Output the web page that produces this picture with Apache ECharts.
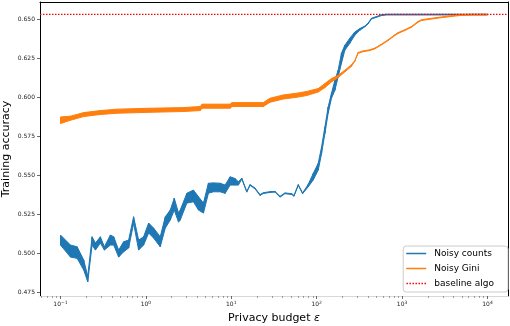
<!DOCTYPE html>
<html>
<head>
<meta charset="utf-8">
<script src="https://cdn.jsdelivr.net/npm/echarts@6/dist/echarts.min.js"></script>
<style>
  html, body { margin: 0; padding: 0; background: #fff; }
  #chart { width: 510px; height: 326px; }
</style>
</head>
<body>
<div id="chart"></div>
<script>
// x values are log10(epsilon)
const countsLogEps = [-1.000, -0.883, -0.805, -0.728, -0.681, -0.630, -0.591, -0.533, -0.486, -0.416, -0.377, -0.319, -0.261, -0.202, -0.144, -0.085, -0.027, 0.032, 0.090, 0.168, 0.227, 0.285, 0.332, 0.382, 0.402, 0.480, 0.557, 0.616, 0.674, 0.732, 0.791, 0.869, 0.928, 0.986, 1.044, 1.083, 1.123, 1.181, 1.220, 1.278, 1.336, 1.375, 1.453, 1.512, 1.570, 1.628, 1.707, 1.734, 1.784, 1.835, 1.901, 1.959, 2.018, 2.057, 2.096, 2.134, 2.173, 2.213, 2.251, 2.290, 2.329, 2.388, 2.446, 2.505, 2.563, 2.602, 2.641, 2.700, 2.758, 2.817, 4.000]
const countsLow = [0.5055, 0.4978, 0.4970, 0.4895, 0.4820, 0.5055, 0.5023, 0.5068, 0.5023, 0.5055, 0.5055, 0.4978, 0.5012, 0.5036, 0.5194, 0.5023, 0.5055, 0.5132, 0.5100, 0.5044, 0.5164, 0.5215, 0.5279, 0.5202, 0.5215, 0.5324, 0.5332, 0.5279, 0.5260, 0.5387, 0.5396, 0.5396, 0.5386, 0.5439, 0.5439, 0.5439, 0.5478, 0.5394, 0.5437, 0.5415, 0.5373, 0.5385, 0.5392, 0.5394, 0.5362, 0.5384, 0.5379, 0.5368, 0.5437, 0.5384, 0.5428, 0.5471, 0.5535, 0.5641, 0.5769, 0.5899, 0.5995, 0.6046, 0.6131, 0.6219, 0.6302, 0.6347, 0.6398, 0.6430, 0.6452, 0.6471, 0.6502, 0.6513, 0.6524, 0.6528, 0.6528]
const countsHigh = [0.5119, 0.5055, 0.5044, 0.4959, 0.4855, 0.5108, 0.5068, 0.5108, 0.5044, 0.5119, 0.5108, 0.5023, 0.5076, 0.5087, 0.5236, 0.5087, 0.5108, 0.5196, 0.5164, 0.5108, 0.5236, 0.5279, 0.5355, 0.5260, 0.5279, 0.5387, 0.5407, 0.5364, 0.5324, 0.5451, 0.5453, 0.5451, 0.5439, 0.5492, 0.5481, 0.5460, 0.5483, 0.5399, 0.5442, 0.5420, 0.5378, 0.5390, 0.5397, 0.5399, 0.5367, 0.5389, 0.5384, 0.5373, 0.5442, 0.5389, 0.5444, 0.5513, 0.5579, 0.5683, 0.5811, 0.5939, 0.6027, 0.6110, 0.6174, 0.6283, 0.6334, 0.6379, 0.6419, 0.6441, 0.6457, 0.6476, 0.6507, 0.6518, 0.6529, 0.6533, 0.6533]

const giniLogEps = [-1.000, -0.883, -0.728, -0.533, -0.338, 0.051, 0.440, 0.636, 0.659, 0.986, 1.009, 1.375, 1.453, 1.609, 1.765, 1.882, 2.018, 2.096, 2.173, 2.251, 2.329, 2.407, 2.446, 2.485, 2.543, 2.621, 2.680, 2.758, 2.836, 2.914, 2.953, 3.030, 3.109, 3.186, 3.225, 3.322, 3.439, 3.556, 3.673, 3.825, 4.000]
const giniLow = [0.5833, 0.5854, 0.5878, 0.5891, 0.5899, 0.5905, 0.5910, 0.5916, 0.5931, 0.5931, 0.5942, 0.5942, 0.5969, 0.5990, 0.6001, 0.6012, 0.6035, 0.6063, 0.6099, 0.6127, 0.6163, 0.6199, 0.6231, 0.6283, 0.6293, 0.6300, 0.6311, 0.6336, 0.6364, 0.6396, 0.6410, 0.6428, 0.6449, 0.6481, 0.6492, 0.6500, 0.6509, 0.6517, 0.6524, 0.6528, 0.6528]
const giniHigh = [0.5875, 0.5880, 0.5903, 0.5916, 0.5925, 0.5931, 0.5935, 0.5942, 0.5957, 0.5957, 0.5967, 0.5967, 0.5995, 0.6016, 0.6027, 0.6038, 0.6057, 0.6089, 0.6121, 0.6142, 0.6174, 0.6210, 0.6236, 0.6288, 0.6298, 0.6305, 0.6316, 0.6341, 0.6369, 0.6401, 0.6415, 0.6433, 0.6454, 0.6486, 0.6497, 0.6505, 0.6514, 0.6522, 0.6529, 0.6533, 0.6533]

const baseline = 0.6532

const yTicks = [0.475, 0.500, 0.525, 0.550, 0.575, 0.600, 0.625, 0.650]
const xDecades = [-1, 0, 1, 2, 3, 4]
const minorMultipliers = [2, 3, 4, 5, 6, 7, 8, 9]

const X_MIN = -1.24
const X_MAX = 4.24
const Y_MIN = 0.4729
const Y_MAX = 0.6611
const FONT = 'DejaVu Sans'

const minorTicks = []
for (const d of [-2, -1, 0, 1, 2, 3, 4]) {
  for (const m of minorMultipliers) {
    const v = d + Math.log10(m)
    if (v > X_MIN && v < X_MAX) minorTicks.push(v)
  }
}

function bandSeries (name, xs, lo, hi, color, z) {
  return {
    name,
    type: 'custom',
    xAxisIndex: 0,
    yAxisIndex: 0,
    z,
    itemStyle: { color },
    data: xs.map((x, i) => [x, lo[i], hi[i]]),
    encode: { x: 0, y: [1, 2] },
    renderItem (params, api) {
      const i = params.dataIndex
      if (i >= xs.length - 1) return
      const pts = [
        api.coord([xs[i], hi[i]]),
        api.coord([xs[i + 1], hi[i + 1]]),
        api.coord([xs[i + 1], lo[i + 1]]),
        api.coord([xs[i], lo[i]])
      ]
      return {
        type: 'polygon',
        shape: { points: pts },
        style: { fill: color, stroke: color, lineWidth: 1, lineJoin: 'round' }
      }
    }
  }
}

const supMinus = v => (v < 0 ? '\u2212' + (-v) : String(v))
const dotIcon = 'path://M0,0H1.5V1.5H0Z M3,0H4.5V1.5H3Z M6,0H7.5V1.5H6Z M9,0H10.5V1.5H9Z M12,0H13.5V1.5H12Z M15,0H16.5V1.5H15Z M18,0H19.5V1.5H18Z'
const lineIcon = 'path://M0,0H20V1.5H0Z'

const gridBox = { left: 40, right: 2, top: 2, bottom: 30, outerBoundsMode: 'none' }
const frameAxis = extra => Object.assign({
  type: 'value',
  axisLine: { show: true, onZero: false, lineStyle: { color: '#000', width: 1 } },
  axisTick: { show: false },
  axisLabel: { show: false },
  splitLine: { show: false }
}, extra)

const chart = echarts.init(document.getElementById('chart'), null, { renderer: 'canvas' })
const option = {
  animation: false,
  backgroundColor: '#fff',
  textStyle: { fontFamily: FONT },
  grid: [
    Object.assign({}, gridBox),
    Object.assign({}, gridBox),
    Object.assign({}, gridBox)
  ],
  legend: {
    orient: 'vertical',
    right: 2,
    top: 246,
    padding: [3, 14, 4, 3],
    itemGap: 6,
    itemWidth: 20,
    itemHeight: 1.5,
    borderColor: '#cccccc',
    borderWidth: 1,
    borderRadius: 3,
    backgroundColor: 'rgba(255,255,255,0.8)',
    textStyle: { fontFamily: FONT, fontSize: 9, color: '#000', padding: [0, 0, 0, 3] },
    data: [
      { name: 'Noisy counts', icon: lineIcon },
      { name: 'Noisy Gini', icon: lineIcon },
      { name: 'baseline algo', icon: dotIcon }
    ]
  },
  xAxis: [
    {
      type: 'value', gridIndex: 0, position: 'bottom', min: X_MIN, max: X_MAX,
      axisLine: { show: true, onZero: false, lineStyle: { color: '#d8d8d8', width: 1 } },
      axisTick: { show: true, customValues: xDecades, length: 3, lineStyle: { color: '#444', width: 0.8 } },
      axisLabel: {
        show: true,
        customValues: xDecades,
        margin: 4,
        color: '#222',
        fontFamily: FONT,
        fontSize: 6,
        formatter: v => '{b|10}{s|' + supMinus(v) + '}',
        rich: {
          b: { fontFamily: FONT, fontSize: 6, lineHeight: 9, color: '#222' },
          s: { fontFamily: FONT, fontSize: 4.5, lineHeight: 6, verticalAlign: 'top', color: '#222' }
        }
      },
      splitLine: { show: false },
      name: 'Privacy budget {it|\u03b5}',
      nameLocation: 'middle',
      nameGap: 16,
      nameTextStyle: {
        fontFamily: FONT, fontSize: 11, color: '#000',
        rich: { it: { fontFamily: FONT, fontSize: 11, fontStyle: 'italic', color: '#000' } }
      }
    },
    {
      type: 'value', gridIndex: 1, position: 'bottom', min: X_MIN, max: X_MAX,
      axisLine: { show: false },
      axisTick: { show: true, customValues: minorTicks, length: 2, lineStyle: { color: '#666', width: 0.6 } },
      axisLabel: { show: false }, splitLine: { show: false }
    },
    frameAxis({ gridIndex: 2, position: 'top', min: X_MIN, max: X_MAX })
  ],
  yAxis: [
    {
      type: 'value', gridIndex: 0, position: 'left', min: Y_MIN, max: Y_MAX,
      axisLine: { show: true, onZero: false, lineStyle: { color: '#000', width: 1 } },
      axisTick: { show: true, customValues: yTicks, length: 3, lineStyle: { color: '#444', width: 0.8 } },
      axisLabel: {
        show: true, customValues: yTicks, margin: 5, color: '#222', fontFamily: FONT, fontSize: 6,
        formatter: v => v.toFixed(3)
      },
      splitLine: { show: false },
      name: 'Training accuracy',
      nameLocation: 'middle',
      nameGap: 28,
      nameMoveOverlap: false,
      nameTextStyle: { fontFamily: FONT, fontSize: 11, color: '#000' }
    },
    {
      type: 'value', gridIndex: 1, min: Y_MIN, max: Y_MAX, show: false
    },
    frameAxis({ gridIndex: 2, position: 'right', min: Y_MIN, max: Y_MAX })
  ],
  series: [
    bandSeries('Noisy counts', countsLogEps, countsLow, countsHigh, '#1f77b4', 2),
    bandSeries('Noisy Gini', giniLogEps, giniLow, giniHigh, '#ff7f0e', 3),
    {
      name: 'baseline algo',
      type: 'line',
      xAxisIndex: 0,
      yAxisIndex: 0,
      z: 4,
      symbol: 'none',
      silent: true,
      color: '#ff0000',
      itemStyle: { color: '#ff0000' },
      lineStyle: { color: '#ff0000', width: 1.2, type: [1.5, 1.5] },
      data: [[X_MIN, baseline], [X_MAX, baseline]]
    }
  ]
}
chart.setOption(option)
</script>
</body>
</html>
